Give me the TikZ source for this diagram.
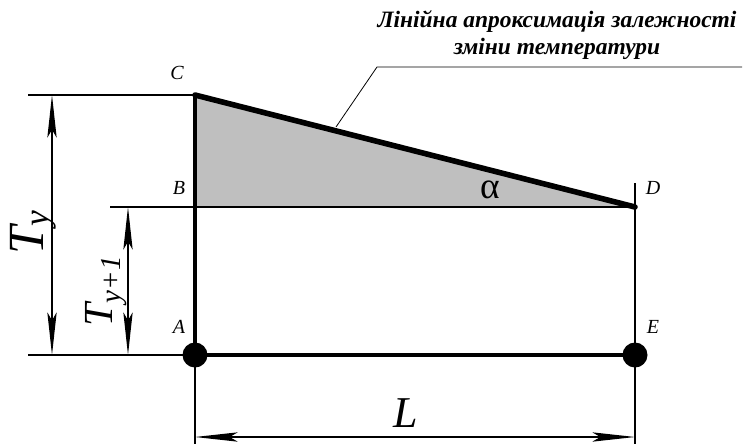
\documentclass[tikz,border=0pt]{standalone}
\usepackage{fontspec}
\setmainfont{Liberation Serif}
\usetikzlibrary{arrows.meta}

\begin{document}
\begin{tikzpicture}[x=0.75pt,y=-0.75pt,line width=1.1pt,
  thickline/.style={line width=2.6pt},
  dimline/.style={line width=1pt,{Stealth[length=32pt,width=7pt,inset=6pt]}-{Stealth[length=32pt,width=7pt,inset=6pt]}},
  ptlabel/.style={font=\itshape\fontsize{15}{15}\selectfont}]
 \useasboundingbox (0,0) rectangle (744,444);
 % main points
 \coordinate (C) at (195,95);
 \coordinate (B) at (195,207);
 \coordinate (A) at (195,355);
 \coordinate (D) at (635,207);
 \coordinate (E) at (635,355);
 \fill[black!25] (C)--(B)--(D)--cycle;
 % extension lines
 \coordinate (Cext) at (28,95);
 \coordinate (Bext) at (110,207);
 \coordinate (Aext) at (28,355);
 \coordinate (Alow) at (195,444);
 \coordinate (Dtop) at (635,183);
 \coordinate (Elow) at (635,444);
 \draw (Cext)--(C);
 \draw (Bext)--(D);
 \draw (Aext)--(A);
 \draw (A)--(Alow);
 \draw (Dtop)--(Elow);
 \draw[thickline] (C)--(A)--(E);
 \draw[line width=4.2pt,line cap=round] (C)--(D);
 \fill (A) circle[radius=12.5];
 \fill (E) circle[radius=12.5];
 % dimensions
 \coordinate (ty1) at (52,95);
 \coordinate (ty2) at (52,355);
 \coordinate (tz1) at (128,207);
 \coordinate (tz2) at (128,355);
 \coordinate (l1) at (195,437);
 \coordinate (l2) at (635,437);
 \draw[dimline] (ty1)--(ty2);
 \draw[dimline] (tz1)--(tz2);
 \draw[dimline] (l1)--(l2);
 \node[font=\itshape\fontsize{38}{38}\selectfont,rotate=90,inner sep=1pt] (Ty) at (33,232) {T\textsubscript{y}};
 \node[font=\itshape\fontsize{31}{31}\selectfont,rotate=90,inner sep=1pt] (Tz) at (106,291) {T\textsubscript{y+1}};
 \node[font=\itshape\fontsize{33}{33}\selectfont] (Lab) at (406,413) {L};
 \node[font=\fontsize{28}{28}\selectfont] (alpha) at (490,190) {α};
 % point labels
 \foreach \pt/\x/\y in {C/177/73,B/179/188,A/179/327,D/653/188,E/653/327}{%
   \node[ptlabel] (lab\pt) at (\x,\y) {\pt};
 }
 % leader
 \coordinate (lead1) at (336,127);
 \coordinate (lead2) at (377,67);
 \coordinate (lead3) at (742,67);
 \draw[line width=0.6pt] (lead1)--(lead2)--(lead3);
 \node[font=\bfseries\itshape\fontsize{17.6}{20}\selectfont,align=center] (capt) at (557,35)
   {Лінійна апроксимація залежності\\зміни температури};
\end{tikzpicture}
\end{document}
